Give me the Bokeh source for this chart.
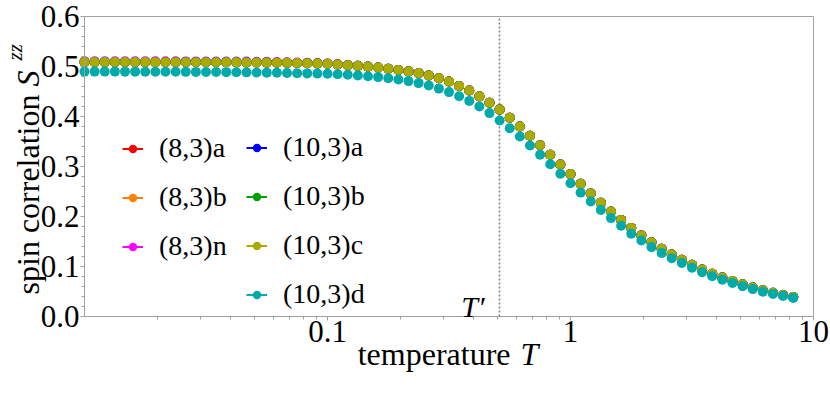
import math
from bokeh.plotting import figure
from bokeh.models import (FixedTicker, PrintfTickFormatter, CustomJSTickFormatter, Label,
                          Legend, LegendItem, Range1d, LinearAxis)
from bokeh.embed import file_html
from bokeh.resources import INLINE

# ---------------- data ----------------
temperature = [
    0.01, 0.011007, 0.012115, 0.013335, 0.014678, 0.016156, 0.017783, 0.019573,
    0.021544, 0.023714, 0.026102, 0.02873, 0.031623, 0.034807, 0.038312, 0.04217,
    0.046416, 0.05109, 0.056234, 0.061897, 0.068129, 0.074989, 0.08254, 0.090852,
    0.1, 0.11007, 0.12115, 0.13335, 0.14678, 0.16156, 0.17783, 0.19573,
    0.21544, 0.23714, 0.26102, 0.2873, 0.31623, 0.34807, 0.38312, 0.4217,
    0.46416, 0.5109, 0.56234, 0.61897, 0.68129, 0.74989, 0.8254, 0.90852,
    1.0, 1.1007, 1.2115, 1.3335, 1.4678, 1.6156, 1.7783, 1.9573,
    2.1544, 2.3714, 2.6102, 2.873, 3.1623, 3.4807, 3.8312, 4.217,
    4.6416, 5.109, 5.6234, 6.1897, 6.8129, 7.4989, 8.254,
]

s_10_3c = [
    0.5088, 0.5088, 0.5088, 0.5088, 0.5088, 0.5088, 0.5088, 0.5087,
    0.5087, 0.5087, 0.5086, 0.5086, 0.5085, 0.5085, 0.5084, 0.5083,
    0.5082, 0.5080, 0.5078, 0.5076, 0.5073, 0.5069, 0.5064, 0.5060,
    0.5054, 0.5041, 0.5027, 0.5013, 0.4998, 0.4980, 0.4957, 0.4932,
    0.4903, 0.4868, 0.4822, 0.4766, 0.4700, 0.4612, 0.4520, 0.4403,
    0.4275, 0.4138, 0.3975, 0.3800, 0.3614, 0.3426, 0.3234, 0.3040,
    0.2848, 0.2653, 0.2462, 0.2277, 0.2100, 0.1932, 0.1772, 0.1622,
    0.1484, 0.1356, 0.1240, 0.1135, 0.1035, 0.0940, 0.0855, 0.0780,
    0.0710, 0.0645, 0.0580, 0.0525, 0.0475, 0.0430, 0.0390,
]

s_8_3n = [
    0.5104, 0.5104, 0.5104, 0.5104, 0.5104, 0.5104, 0.5104, 0.5103,
    0.5103, 0.5103, 0.5102, 0.5102, 0.5101, 0.5101, 0.5100, 0.5099,
    0.5098, 0.5096, 0.5093, 0.5090, 0.5086, 0.5081, 0.5074, 0.5068,
    0.5060, 0.5046, 0.5030, 0.5015, 0.4999, 0.4980, 0.4957, 0.4932,
    0.4903, 0.4868, 0.4822, 0.4766, 0.4700, 0.4612, 0.4520, 0.4403,
    0.4275, 0.4138, 0.3975, 0.3800, 0.3614, 0.3426, 0.3234, 0.3040,
    0.2848, 0.2653, 0.2462, 0.2277, 0.2100, 0.1932, 0.1772, 0.1622,
    0.1484, 0.1356, 0.1240, 0.1135, 0.1035, 0.0940, 0.0855, 0.0780,
    0.0710, 0.0645, 0.0580, 0.0525, 0.0475, 0.0430, 0.0390,
]

s_10_3d = [
    0.4898, 0.4898, 0.4898, 0.4898, 0.4897, 0.4897, 0.4896, 0.4896,
    0.4895, 0.4894, 0.4893, 0.4892, 0.4890, 0.4889, 0.4887, 0.4885,
    0.4883, 0.4880, 0.4877, 0.4874, 0.4870, 0.4866, 0.4862, 0.4858,
    0.4854, 0.4845, 0.4834, 0.4821, 0.4806, 0.4788, 0.4766, 0.4740,
    0.4708, 0.4668, 0.4620, 0.4558, 0.4488, 0.4406, 0.4312, 0.4200,
    0.4068, 0.3920, 0.3765, 0.3600, 0.3420, 0.3234, 0.3046, 0.2856,
    0.2666, 0.2478, 0.2300, 0.2132, 0.1968, 0.1814, 0.1656, 0.1520,
    0.1388, 0.1268, 0.1166, 0.1070, 0.0975, 0.0885, 0.0805, 0.0735,
    0.0670, 0.0605, 0.0548, 0.0495, 0.0452, 0.0410, 0.0370,
]

# these coincide with (10,3)c within the resolution of the picture
s_8_3a = list(s_10_3c)
s_8_3b = list(s_10_3c)
s_10_3a = list(s_10_3c)
s_10_3b = list(s_10_3c)

for arr in (s_10_3c, s_8_3n, s_10_3d):
    assert len(arr) == len(temperature), len(arr)

series_names = ["(8,3)a", "(8,3)b", "(8,3)n", "(10,3)a", "(10,3)b", "(10,3)c", "(10,3)d"]
series_values = [s_8_3a, s_8_3b, s_8_3n, s_10_3a, s_10_3b, s_10_3c, s_10_3d]
series_colors = ["#FF0000", "#FF8000", "#FF00FF", "#0000FF", "#00A000", "#AAAA00", "#00AAAA"]

T_prime = 0.51
x_start, x_end = 0.01, 10        # extent of the drawn axes box
y_start, y_end = 0.0, 0.6
x_major = [0.1, 1, 10]
x_minor = [0.02, 0.03, 0.04, 0.05, 0.06, 0.07, 0.08, 0.09,
           0.2, 0.3, 0.4, 0.5, 0.6, 0.7, 0.8, 0.9,
           2, 3, 4, 5, 6, 7, 8, 9]
y_major = [0.0, 0.1, 0.2, 0.3, 0.4, 0.5, 0.6]
y_minor = [0.02, 0.04, 0.06, 0.08, 0.12, 0.14, 0.16, 0.18, 0.22, 0.24, 0.26, 0.28,
           0.32, 0.34, 0.36, 0.38, 0.42, 0.44, 0.46, 0.48, 0.52, 0.54, 0.56, 0.58]

# ---------------- layout (pixels) ----------------
W, H = 830, 396
BOX_L, BOX_R, BOX_T, BOX_B = 84, 813, 16, 316     # axes box inside the canvas

# the frame fills the canvas; the axes box is a sub-rectangle of it
px_per_decade = (BOX_R - BOX_L) / (math.log10(x_end) - math.log10(x_start))
px_per_unit = (BOX_B - BOX_T) / (y_end - y_start)
xr = Range1d(10 ** (math.log10(x_start) - BOX_L / px_per_decade),
             10 ** (math.log10(x_end) + (W - BOX_R) / px_per_decade))
yr = Range1d(y_start - (H - BOX_B) / px_per_unit, y_end + BOX_T / px_per_unit)

FONT = "Liberation Serif"
GRAY = "#a0a0a0"

p = figure(width=W, height=H, x_axis_type="log", x_range=xr, y_range=yr,
           output_backend="svg", toolbar_location=None, min_border=0)
p.grid.visible = False
p.outline_line_color = None
p.background_fill_color = "white"
p.border_fill_color = "white"

p.xaxis.ticker = FixedTicker(ticks=x_major, minor_ticks=x_minor)
p.xaxis.formatter = CustomJSTickFormatter(code="return tick.toString()")
p.xaxis.fixed_location = y_start
p.xaxis.bounds = (x_start, x_end)
p.yaxis.ticker = FixedTicker(ticks=y_major, minor_ticks=y_minor)
p.yaxis.formatter = PrintfTickFormatter(format="%.1f")
p.yaxis.fixed_location = x_start
p.yaxis.bounds = (y_start, y_end)
for axes in (p.xaxis, p.yaxis):
    axes.axis_line_color = GRAY
    axes.major_tick_line_color = GRAY
    axes.minor_tick_line_color = GRAY
    axes.major_tick_in = 0
    axes.major_tick_out = 4
    axes.minor_tick_in = 0
    axes.minor_tick_out = 3
    axes.major_label_text_font = FONT
    axes.major_label_text_font_size = "31px"
    axes.major_label_text_color = "black"
p.yaxis.major_label_standoff = 1
p.xaxis.major_label_standoff = 0

# top and right edges of the box
top_axis = LinearAxis(fixed_location=y_end, bounds=(x_start, x_end),
                      ticker=FixedTicker(ticks=[]), axis_line_color=GRAY,
                      major_label_text_alpha=0)
right_axis = LinearAxis(fixed_location=x_end, bounds=(y_start, y_end),
                        ticker=FixedTicker(ticks=[]), axis_line_color=GRAY,
                        major_label_text_alpha=0)
p.add_layout(top_axis, "above")
p.add_layout(right_axis, "right")

def text_label(text, x, y, dx, dy, size="32px", italic=False, align="left", angle=0.0):
    return Label(x=x, y=y, x_offset=dx, y_offset=dy, text=text, angle=angle,
                 text_align=align, text_baseline="alphabetic", text_font=FONT,
                 text_font_style="italic" if italic else "normal",
                 text_font_size=size, text_color="black")

# axis labels (offsets in px from the box's bottom-left corner)
p.add_layout(text_label("temperature", x_start, y_start, 426, -37, align="right"))
p.add_layout(text_label("T", x_start, y_start, 436, -37, italic=True))
p.add_layout(text_label("spin correlation", x_start, y_start, -57, 222, align="right",
                        angle=math.pi / 2))
p.add_layout(text_label("S", x_start, y_start, -57, 230, italic=True, angle=math.pi / 2))
p.add_layout(text_label("zz", x_start, y_start, -70, 256, size="21px", italic=True,
                        angle=math.pi / 2))
p.add_layout(text_label("T\u2032", T_prime, y_start, -15, 10, size="30px", italic=True,
                        align="right"))

# dotted marker line at T'
p.segment(x0=[T_prime], y0=[y_start], x1=[T_prime], y1=[y_end],
          line_color="#808080", line_dash="2 2", line_width=1.5)

line_renderers = []
dot_renderers = []
for name, vals, col in zip(series_names, series_values, series_colors):
    lr = p.line(temperature, vals, line_color=col, line_width=2)
    lr.visible = False
    dr = p.scatter(temperature, vals, size=10, fill_color=col, line_color=None)
    line_renderers.append(lr)
    dot_renderers.append(dr)

def make_legend(idx, loc):
    items = [LegendItem(label=series_names[i], renderers=[line_renderers[i], dot_renderers[i]])
             for i in idx]
    return Legend(items=items, location=loc, padding=0, margin=0,
                  border_line_alpha=0, background_fill_alpha=0,
                  glyph_width=21, glyph_height=21, label_standoff=16,
                  label_text_font=FONT, label_text_font_size="28px",
                  label_text_color="black", label_height=30, spacing=17)

p.add_layout(make_legend([0, 1, 2], (BOX_L + 38, (H - BOX_B) + 54)))
p.add_layout(make_legend([3, 4, 5, 6], (BOX_L + 162, (H - BOX_B) + 6)))

open("out.html", "w").write(file_html(p, INLINE))
